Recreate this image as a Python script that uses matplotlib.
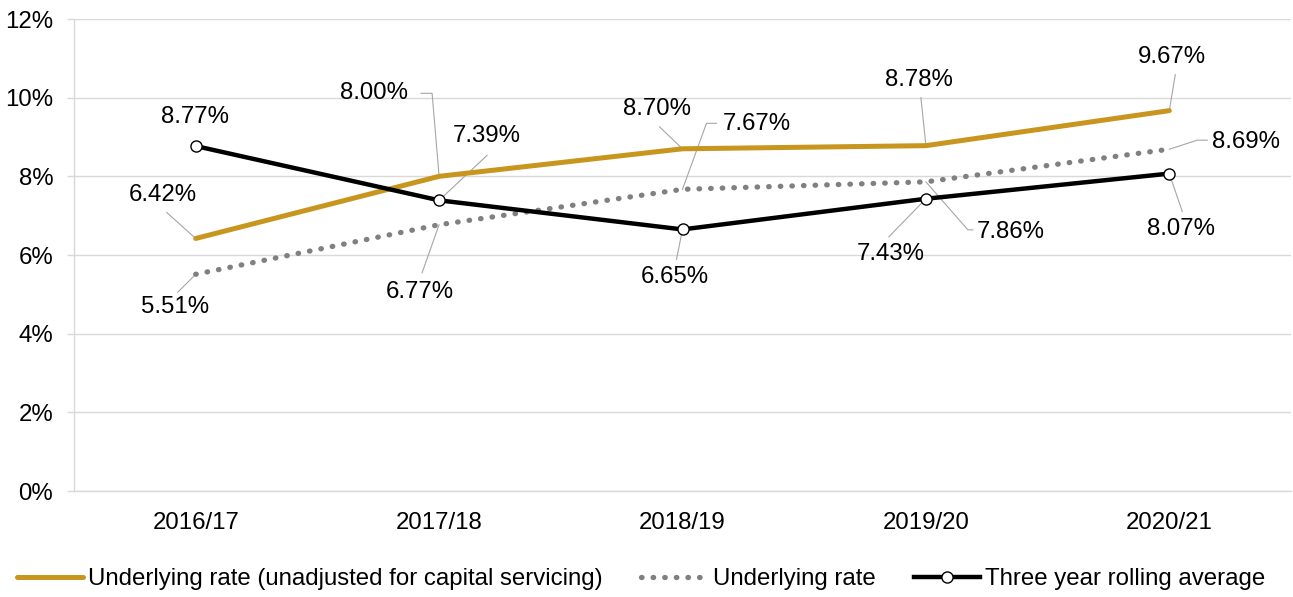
import matplotlib
matplotlib.use("Agg")
import matplotlib.pyplot as plt
import matplotlib.transforms as mtransforms
import numpy as np

plt.rcParams['font.family'] = ['Liberation Sans', 'DejaVu Sans']

years = ["2016/17", "2017/18", "2018/19", "2019/20", "2020/21"]
unadjusted = [6.42, 8.00, 8.70, 8.78, 9.67]
underlying = [5.51, 6.77, 7.67, 7.86, 8.69]
rolling = [8.77, 7.39, 6.65, 7.43, 8.07]

names = ["Underlying rate (unadjusted for capital servicing)",
         "Underlying rate", "Three year rolling average"]

gold = "#C8961E"
grey = "#808080"
leader_col = "#A6A6A6"
fs = 17.3

# label text offsets (pixels from the point) and leader paths (pixels)
lab_unadj = [(-33, 43), (-65, 83), (-26, 40), (-7, 66), (3, 54)]
lead_unadj = [[(0, 0), (-29, 26)], [(0, 0), (-7, 83), (-18, 83)],
              [(0, 0), (-23, 22)], [(0, 0), (-5, 48)], [(0, 0), (6, 36)]]
lab_under = [(-21, -33), (-19, -67), (74, 65), (85, -50), (77, 7)]
lead_under = [[(0, 0), (-18, -18)], [(0, 0), (-17, -48)],
              [(0, 0), (24, 66), (34, 66)], [(0, 0), (42, -48), (47, -48)],
              [(0, 0), (28, 9), (38, 9)]]
lab_roll = [(-1, 29), (48, 64), (-8, -48), (-35, -55), (12, -55)]
lead_roll = [None, [(0, 0), (48, 45)], [(0, 0), (-6, -30)],
             [(0, 0), (-37, -38)], [(0, 0), (13, -38)]]

fig = plt.figure(figsize=(12.93, 5.97), dpi=100)
ax = fig.add_axes([74 / 1293, 1 - 491 / 597, 1217 / 1293, 472 / 597])

x = np.arange(len(years))
ax.plot(x, unadjusted, color=gold, lw=3.6, solid_capstyle='round',
        label=names[0], zorder=3)
ax.plot(x, underlying, color=grey, lw=3.8, linestyle=(0, (0.1, 2.1)),
        dash_capstyle='round', label=names[1], zorder=3)
ax.plot(x, rolling, color='black', lw=3.2, marker='o', markersize=8,
        markerfacecolor='white', markeredgecolor='black', markeredgewidth=1,
        label=names[2], zorder=4)


def put_labels(vals, labs, leads):
    for i, v in enumerate(vals):
        dx, dy = labs[i]
        ax.annotate(f"{v:.2f}%", xy=(i, v), xytext=(dx, dy),
                    textcoords='offset pixels', ha='center', va='center',
                    fontsize=fs, color='black', zorder=5)
        if leads[i] is not None:
            pts = np.array(leads[i], dtype=float)
            tr = mtransforms.IdentityTransform() + \
                mtransforms.ScaledTranslation(i, v, ax.transData)
            ax.plot(pts[:, 0], pts[:, 1], color=leader_col, lw=0.8,
                    transform=tr, zorder=2, clip_on=False)


put_labels(unadjusted, lab_unadj, lead_unadj)
put_labels(underlying, lab_under, lead_under)
put_labels(rolling, lab_roll, lead_roll)

ax.set_xlim(-0.5, len(years) - 0.5)
ax.set_ylim(0, 12)
ax.set_yticks(np.arange(0, 13, 2))
ax.set_yticklabels([f"{t}%" for t in range(0, 13, 2)])
ax.set_xticks(x)
ax.set_xticklabels(years)
ax.grid(axis='y', color='#D9D9D9', lw=1)
ax.set_axisbelow(True)
for s in ['top', 'right']:
    ax.spines[s].set_visible(False)
for s in ['left', 'bottom']:
    ax.spines[s].set_color('#D9D9D9')
    ax.spines[s].set_linewidth(1)
ax.tick_params(axis='y', length=5, color='#D9D9D9', width=1, pad=10,
               labelsize=fs)
ax.tick_params(axis='x', length=0, pad=15, labelsize=fs)

fig.legend(loc='center', bbox_to_anchor=(0.496, 0.03), ncol=3, frameon=False,
           fontsize=fs, handlelength=2.75, handletextpad=0.22,
           columnspacing=1.6, borderaxespad=0)

fig.savefig("out.png", dpi=100)
